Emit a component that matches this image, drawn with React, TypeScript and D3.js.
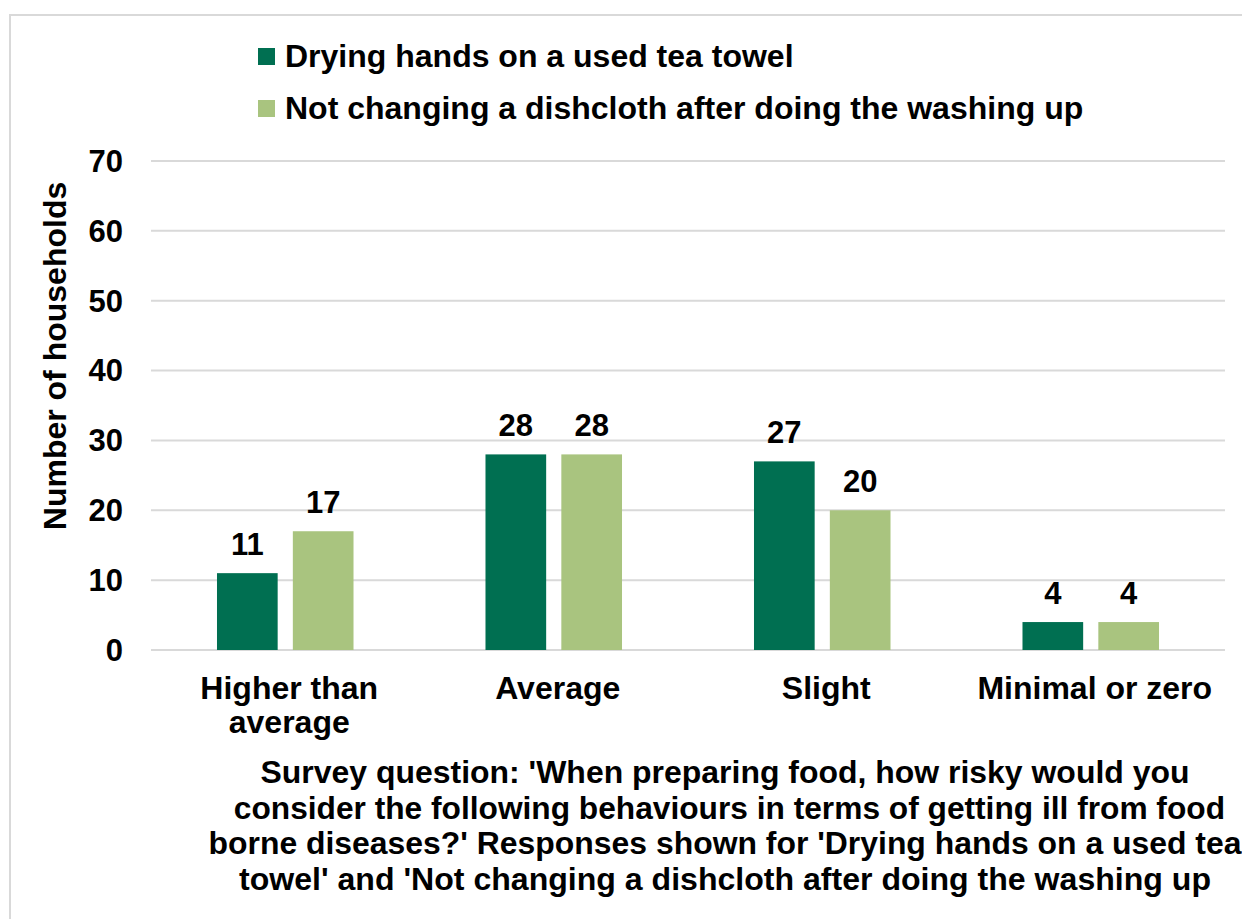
import React from "react";
import * as d3 from "d3";

const categories = ["Higher than average", "Average", "Slight", "Minimal or zero"];
const categoryLines = [["Higher than", "average"], ["Average"], ["Slight"], ["Minimal or zero"]];
const seriesNames = ["Drying hands on a used tea towel", "Not changing a dishcloth after doing the washing up"];
const dryingHands = [11, 28, 27, 4];
const notChanging = [17, 28, 20, 4];
const yTicks = [0, 10, 20, 30, 40, 50, 60, 70];
const colors = ["#006F51", "#A9C47F"];
const captionLines = [
  "Survey question: 'When preparing food, how risky would you",
  " consider the following behaviours in terms of getting ill from food",
  "borne diseases?' Responses shown for 'Drying hands on a used tea",
  "towel' and 'Not changing a dishcloth after doing the washing up",
];
const captionWidths = [929, 1000, 1033, 972];

const W = 1242;
const H = 919;
const FONT = "'Liberation Sans', Arial, sans-serif";

export default function App() {
  const left = 151, right = 1225, top = 161, bottom = 650;
  const y = d3.scaleLinear().domain([0, 70]).range([bottom, top]);
  const x0 = d3.scaleBand<string>().domain(categories).range([left, right]);
  const x1 = d3
    .scaleBand<number>()
    .domain([0, 1])
    .range([0, x0.bandwidth()])
    .paddingInner(0.2)
    .paddingOuter(0.87);
  const series = [dryingHands, notChanging];

  return (
    <svg
      width={W}
      height={H}
      style={{ position: "absolute", left: 0, top: 0, background: "#fff" }}
      fontFamily={FONT}
      fontWeight="bold"
    >
      <rect x={0} y={0} width={W} height={H} fill="#fff" />
      <rect x={10} y={15} width={W + 20} height={H + 20} fill="none" stroke="#D9D9D9" strokeWidth={2} />

      {/* gridlines */}
      {yTicks.map((t) => (
        <line key={t} x1={left} x2={right} y1={y(t)} y2={y(t)} stroke="#D9D9D9" strokeWidth={2} />
      ))}
      {/* tick labels */}
      {yTicks.map((t) => (
        <text key={"l" + t} x={123} y={y(t)} dy="0.35em" textAnchor="end" fontSize={31} fill="#000">
          {t}
        </text>
      ))}

      {/* y axis title */}
      <text
        transform={`translate(66,356) rotate(-90)`}
        textAnchor="middle"
        fontSize={32}
        fill="#000"
      >
        Number of households
      </text>

      {/* bars */}
      {categories.map((c, i) => (
        <g key={c} transform={`translate(${x0(c)},0)`}>
          {series.map((s, j) => (
            <g key={j}>
              <rect
                x={x1(j)}
                y={y(s[i])}
                width={x1.bandwidth()}
                height={y(0) - y(s[i])}
                fill={colors[j]}
              />
              <text
                x={(x1(j) as number) + x1.bandwidth() / 2}
                y={y(s[i]) - 18}
                textAnchor="middle"
                fontSize={31}
                fill="#000"
              >
                {s[i]}
              </text>
            </g>
          ))}
        </g>
      ))}

      {/* category labels */}
      {categories.map((c, i) => {
        const cx = (x0(c) as number) + x0.bandwidth() / 2 + 4;
        return (
          <text key={"c" + c} x={cx} y={699} textAnchor="middle" fontSize={32} fill="#000">
            {categoryLines[i].map((ln, k) => (
              <tspan key={k} x={cx} dy={k === 0 ? 0 : 34}>
                {ln}
              </tspan>
            ))}
          </text>
        );
      })}

      {/* legend */}
      {seriesNames.map((n, j) => (
        <g key={n}>
          <rect x={258} y={48 + j * 52} width={17} height={17} fill={colors[j]} />
          <text x={285} y={67 + j * 52} fontSize={32} fill="#000">
            {n}
          </text>
        </g>
      ))}

      {/* caption */}
      {captionLines.map((ln, k) => (
        <text
          key={k}
          x={725}
          y={783 + k * 35.5}
          textAnchor="middle"
          fontSize={31}
          fill="#000"
          textLength={captionWidths[k]}
          lengthAdjust="spacingAndGlyphs"
          xmlSpace="preserve"
        >
          {ln}
        </text>
      ))}
    </svg>
  );
}
